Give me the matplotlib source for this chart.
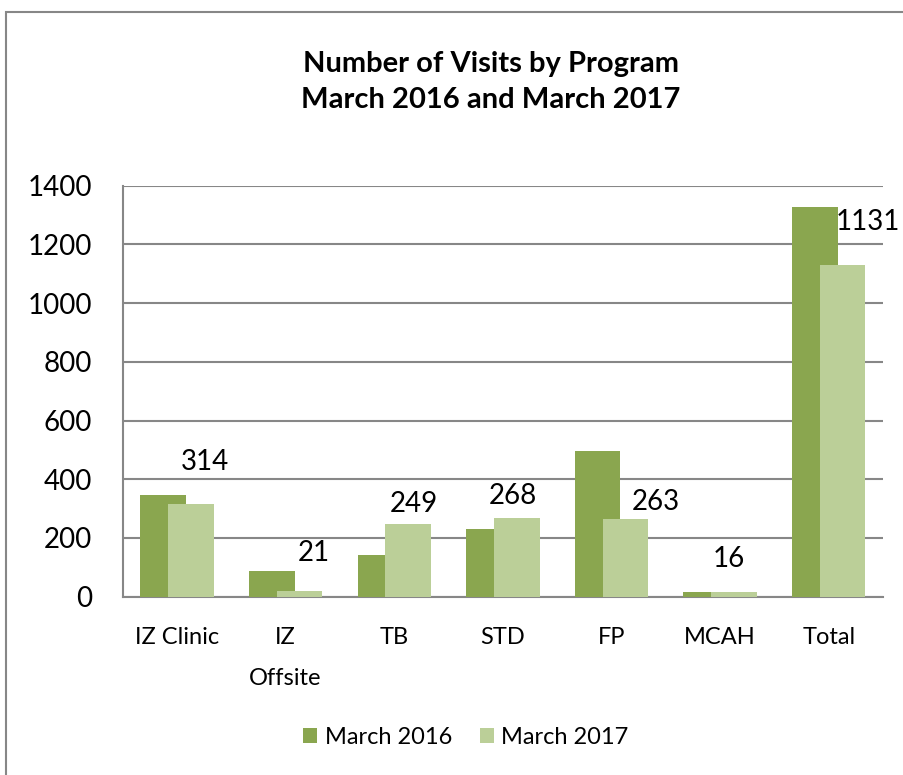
import matplotlib
matplotlib.use("Agg")
import matplotlib.pyplot as plt
from matplotlib.patches import Rectangle
import numpy as np

programs = ["IZ Clinic", "IZ\nOffsite", "TB", "STD", "FP", "MCAH", "Total"]
visits_2016 = [348, 89, 143, 231, 497, 15, 1326]
visits_2017 = [314, 21, 249, 268, 263, 16, 1131]
series_names = ["March 2016", "March 2017"]

# hand placed data labels (offset in points from top of the 2017 bar)
label_offsets = [(10, 25), (10, 21), (4, 8), (-3, 10), (22, 7), (-4, 18), (18, 25)]

dark_green = "#8aa64f"
light_green = "#bbcf98"
grid_grey = "#878787"

plt.rcParams["font.family"] = ["Lato", "DejaVu Sans"]

fig = plt.figure(figsize=(9.04, 7.75), dpi=100)
ax = fig.add_axes([0.1357, 0.2301, 0.9768 - 0.1357, 0.7604 - 0.2301])

x = np.arange(len(programs))
w = 0.42
shift = 0.1275  # bars overlap like in excel
ax.bar(x - shift, visits_2016, w, color=dark_green, label=series_names[0], zorder=3)
bars17 = ax.bar(x + shift, visits_2017, w, color=light_green, label=series_names[1], zorder=4)

for b, v, off in zip(bars17, visits_2017, label_offsets):
    ax.annotate(str(v), (b.get_x() + b.get_width() / 2, b.get_height()),
                xytext=off, textcoords="offset points", ha="center", va="baseline",
                fontsize=20, color="black", annotation_clip=False)

ax.set_xlim(-0.5, len(programs) - 0.5)
ax.set_ylim(0, 1400)
ax.set_yticks(range(0, 1401, 200))
ax.yaxis.grid(True, color=grid_grey, linewidth=1.5, zorder=0)
ax.set_xticks(x)
ax.set_xticklabels(programs, fontsize=17, linespacing=2.15)
ax.tick_params(axis="y", length=0, pad=22, labelsize=20)
ax.tick_params(axis="x", length=0, pad=22)
for s in ["top", "right"]:
    ax.spines[s].set_visible(False)
for s in ["left", "bottom"]:
    ax.spines[s].set_color(grid_grey)
    ax.spines[s].set_linewidth(1.5)

fig.text(0.543, 0.894, "Number of Visits by Program\nMarch 2016 and March 2017",
         ha="center", va="center", fontsize=21, fontweight="bold", linespacing=1.5)

fig.legend(loc="center", bbox_to_anchor=(466 / 904, 1 - 737 / 775), ncol=2,
           frameon=False, fontsize=17, handlelength=0.6, handleheight=0.6,
           handletextpad=0.3, columnspacing=1.2)

fig.patches.append(Rectangle((6 / 904, -0.1), 1.2, 1.1 - 12 / 775, transform=fig.transFigure,
                             fill=False, edgecolor=grid_grey, linewidth=1.5))

fig.savefig("out.png", dpi=100)
